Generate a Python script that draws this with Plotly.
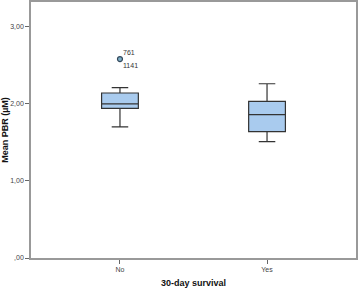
import plotly.graph_objects as go

categories = ["No", "Yes"]
q1 = [1.94, 1.64]
median = [2.00, 1.86]
q3 = [2.14, 2.03]
lower_whisker = [1.70, 1.51]
upper_whisker = [2.21, 2.26]
outlier_x = ["No"]
outlier_y = [2.58]
outlier_ids_top = ["761"]
outlier_ids_bottom = ["1141"]
ytick_vals = [0, 1, 2, 3]
ytick_text = [",00", "1,00", "2,00", "3,00"]

fig = go.Figure()
fig.add_trace(go.Box(
    x=categories, q1=q1, median=median, q3=q3,
    lowerfence=lower_whisker, upperfence=upper_whisker,
    fillcolor="#a9cbee", line=dict(color="#333333", width=1.2),
    width=0.25, whiskerwidth=0.45, boxpoints=False, hoverinfo="skip",
    showlegend=False,
))
fig.add_trace(go.Scatter(
    x=outlier_x, y=outlier_y, mode="markers",
    marker=dict(size=5, color="#7fb0c8", line=dict(color="#33475a", width=1.2)),
    showlegend=False, hoverinfo="skip",
))
for xv, yv, t in zip(outlier_x, outlier_y, outlier_ids_top):
    fig.add_annotation(x=xv, y=yv, text=t, showarrow=False, xanchor="left",
                       yanchor="bottom", xshift=1, yshift=1,
                       font=dict(size=7, color="#333333"))
for xv, yv, t in zip(outlier_x, outlier_y, outlier_ids_bottom):
    fig.add_annotation(x=xv, y=yv, text=t, showarrow=False, xanchor="left",
                       yanchor="top", xshift=1, yshift=-1,
                       font=dict(size=7, color="#333333"))

fig.update_layout(
    width=358, height=288,
    margin=dict(l=31, r=2, t=2, b=30),
    paper_bgcolor="white", plot_bgcolor="white",
    font=dict(family="Liberation Sans, Arial, sans-serif", size=7, color="#444444"),
    xaxis=dict(type="category", range=[-0.605, 1.605], showline=True, mirror=True,
               linecolor="#999999", linewidth=1.5, ticks="outside", ticklen=4,
               tickcolor="#666666", showgrid=False, zeroline=False, automargin=False,
               title=dict(text="<b>30-day survival</b>", font=dict(size=9, color="#111111"), standoff=8)),
    yaxis=dict(range=[0, 3.32], tickvals=ytick_vals, ticktext=ytick_text,
               showline=True, mirror=True, linecolor="#999999", linewidth=1.5,
               ticks="outside", ticklen=4, tickcolor="#666666", showgrid=False,
               zeroline=False, automargin=False,
               title=dict(text="<b>Mean PBR (µM)</b>", font=dict(size=9, color="#111111"), standoff=4)),
)
fig.write_html("out.html", config={"displayModeBar": False},
               post_script="document.body.style.margin='0';document.body.style.overflow='hidden';")
